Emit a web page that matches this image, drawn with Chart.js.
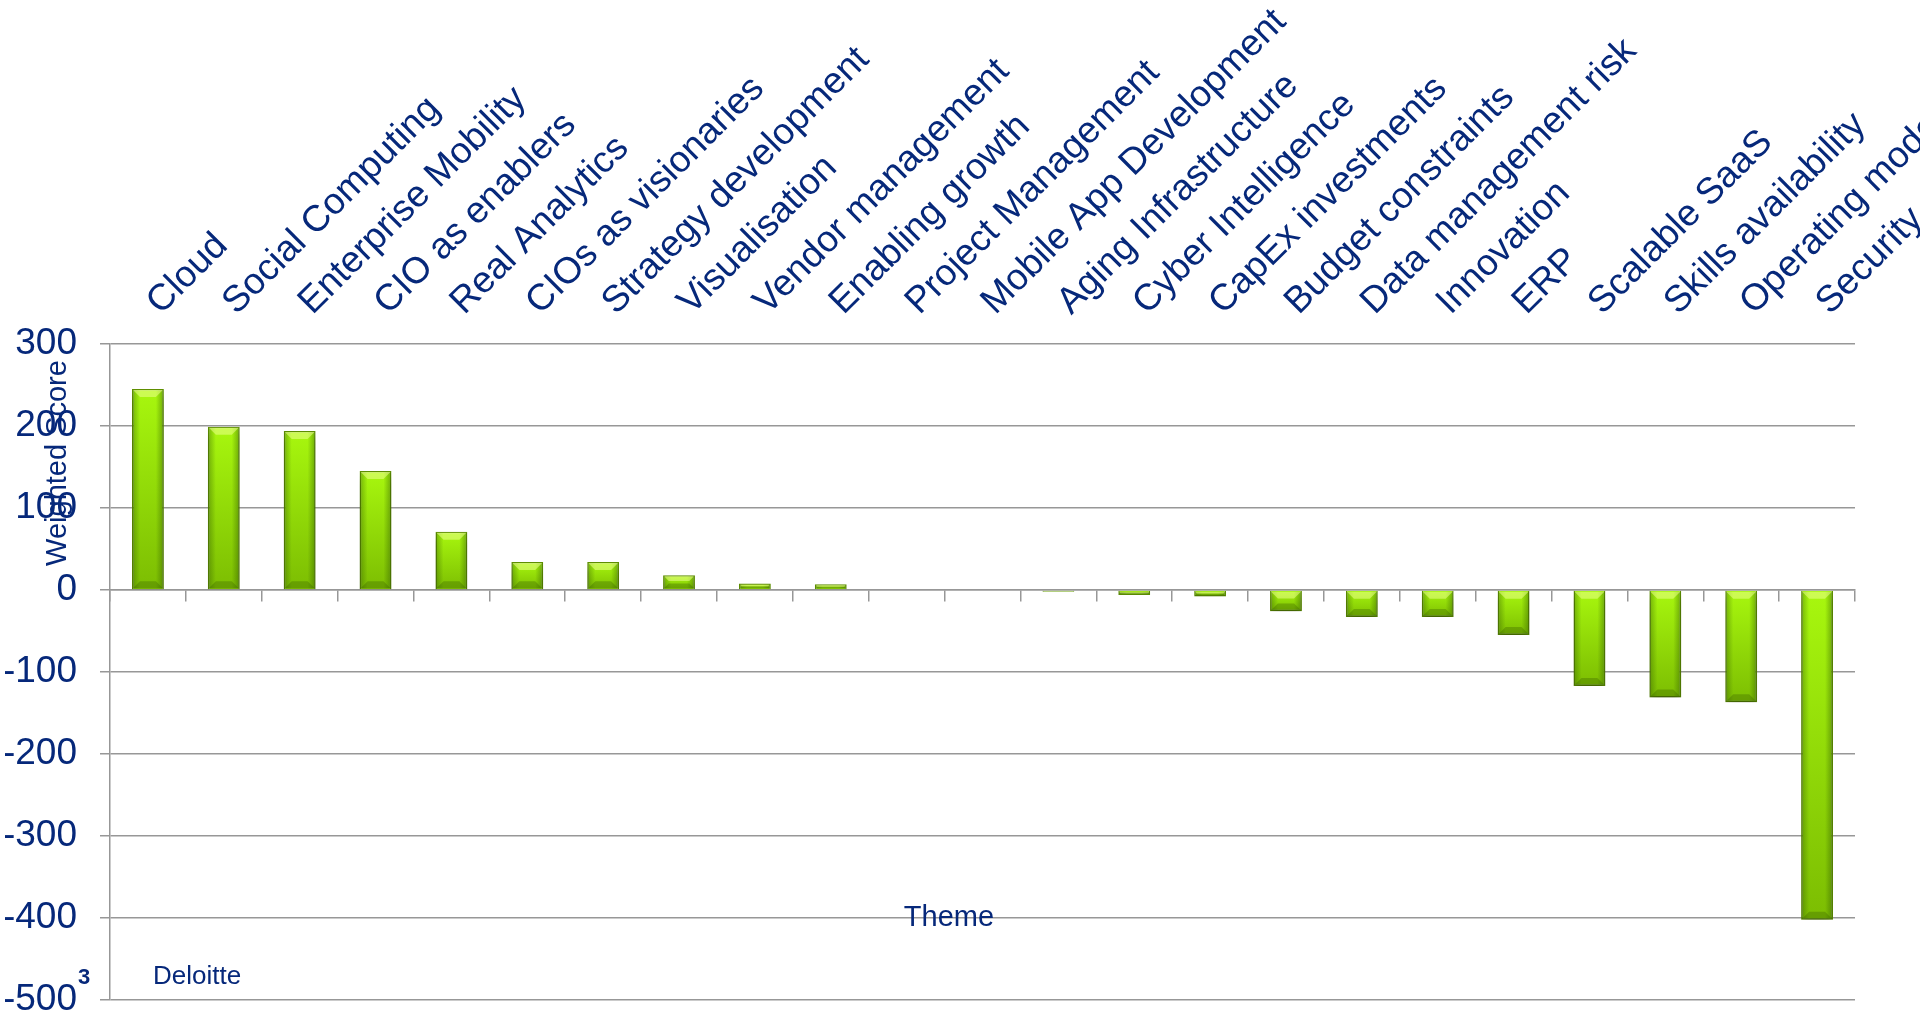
<!DOCTYPE html>
<html>
<head>
<meta charset="utf-8">
<script src="https://cdn.jsdelivr.net/npm/chart.js@4.4.1/dist/chart.umd.min.js"></script>
<style>
  html, body { margin: 0; padding: 0; background: #fff; }
  #wrap { width: 1920px; height: 1014px; position: relative; }
</style>
</head>
<body>
<div id="wrap"><canvas id="themeChart"></canvas></div>
<script>
// themes, ordered as in the chart
const themes = ['Cloud', 'Social Computing', 'Enterprise Mobility', 'CIO as enablers', 'Real Analytics',
  'CIOs as visionaries', 'Strategy development', 'Visualisation', 'Vendor management', 'Enabling growth',
  'Project Management', 'Mobile App Development', 'Aging Infrastructure', 'Cyber Intelligence',
  'CapEx investments', 'Budget constraints', 'Data management risk', 'Innovation', 'ERP',
  'Scalable SaaS', 'Skills availability', 'Operating model', 'Security'];
const scores = [245, 199, 194, 145, 71, 34, 34, 18, 8, 7, -1, -1, -2, -6, -8, -26, -33, -33, -55,
  -117, -131, -137, -402];
const yMin = -500;
const yMax = 300;
const yStep = 100;

const navy = '#06287a';
const gridGray = '#979797';
const fontFamily = '"Liberation Sans", Arial, sans-serif';
Chart.defaults.font.family = fontFamily;

const barLook = {
    id: 'barLook',
    beforeDatasetsDraw(chart) {
        const ctx = chart.ctx;
        ctx.save();
        ctx.shadowColor = 'rgba(0,0,0,0.3)';
        ctx.shadowBlur = 8;
        ctx.shadowOffsetY = 7;
    },
    afterDatasetsDraw(chart) {
        const ctx = chart.ctx;
        ctx.restore();
        const meta = chart.getDatasetMeta(0);
        ctx.save();
        meta.data.forEach((bar) => {
            const left = bar.x - bar.width / 2;
            const top = Math.min(bar.y, bar.base);
            const h = Math.abs(bar.base - bar.y);
            if (h < 2) return;
            const g = ctx.createLinearGradient(left, 0, left + bar.width, 0);
            g.addColorStop(0, 'rgba(40,80,0,0.4)');
            g.addColorStop(0.25, 'rgba(40,80,0,0)');
            g.addColorStop(0.75, 'rgba(40,80,0,0)');
            g.addColorStop(1, 'rgba(40,80,0,0.45)');
            ctx.fillStyle = g;
            ctx.fillRect(left + 1, top + 1, bar.width - 2, h - 2);
            const cap = Math.min(7, h / 3);
            ctx.fillStyle = 'rgba(235,255,140,0.55)';
            ctx.beginPath();
            ctx.moveTo(left + 1, top + 1);
            ctx.lineTo(left + bar.width - 1, top + 1);
            ctx.lineTo(left + bar.width - 1 - cap, top + 1 + cap);
            ctx.lineTo(left + 1 + cap, top + 1 + cap);
            ctx.closePath();
            ctx.fill();
            ctx.fillStyle = 'rgba(60,100,0,0.35)';
            ctx.beginPath();
            ctx.moveTo(left + 1, top + h - 1);
            ctx.lineTo(left + bar.width - 1, top + h - 1);
            ctx.lineTo(left + bar.width - 1 - cap, top + h - 1 - cap);
            ctx.lineTo(left + 1 + cap, top + h - 1 - cap);
            ctx.closePath();
            ctx.fill();
        });
        ctx.restore();
    }
};

const notes = {
    id: 'notes',
    afterDraw(chart) {
        const ctx = chart.ctx;
        const area = chart.chartArea;
        const y = chart.scales.y;
        ctx.save();
        ctx.fillStyle = navy;
        // y axis title, sits over the tick labels as in the original slide
        ctx.save();
        ctx.translate(area.left - 52, area.top + 119);
        ctx.rotate(-Math.PI / 2);
        ctx.font = '29px ' + fontFamily;
        ctx.textAlign = 'center';
        ctx.textBaseline = 'middle';
        ctx.fillText('Weighted Score', 0, 0);
        ctx.restore();

        ctx.font = '29px ' + fontFamily;
        ctx.textAlign = 'center';
        ctx.textBaseline = 'middle';
        ctx.fillText('Theme', area.left + 839, y.getPixelForValue(-400));

        ctx.textAlign = 'left';
        ctx.font = '26px ' + fontFamily;
        ctx.fillText('Deloitte', area.left + 43, area.bottom - 23);
        ctx.font = 'bold 22px ' + fontFamily;
        ctx.fillText('3', area.left - 32, area.bottom - 22);
        ctx.restore();
    }
};

const ctx = document.getElementById('themeChart').getContext('2d');
const themeChart = new Chart(ctx, {
    type: 'bar',
    data: {
        labels: themes,
        datasets: [{
            label: 'Weighted Score',
            data: scores,
            xAxisID: 'x',
            yAxisID: 'y',
            categoryPercentage: 1,
            barPercentage: 0.42,
            borderWidth: 1.5,
            borderColor: '#5e8f00',
            backgroundColor: (c) => {
                const chart = c.chart;
                if (!chart.chartArea || c.type !== 'data') return '#95df00';
                const ys = chart.scales.y;
                const p1 = ys.getPixelForValue(c.raw);
                const p0 = ys.getPixelForValue(0);
                const top = Math.min(p0, p1), bottom = Math.max(p0, p1);
                if (bottom - top < 1) return '#95df00';
                const g = chart.ctx.createLinearGradient(0, top, 0, bottom);
                g.addColorStop(0, '#a8f70e');
                g.addColorStop(1, '#7cbd02');
                return g;
            }
        }]
    },
    options: {
        responsive: true,
        maintainAspectRatio: false,
        animation: false,
        layout: {
            padding: { left: 5, right: 65, top: 0, bottom: 14 }
        },
        plugins: {
            legend: { display: false },
            tooltip: { enabled: false }
        },
        scales: {
            x: {
                type: 'category',
                position: { y: 0 },
                offset: true,
                grid: {
                    offset: true,
                    drawOnChartArea: false,
                    drawTicks: true,
                    tickLength: 11,
                    color: gridGray,
                    lineWidth: 1.5
                },
                border: { display: true, color: gridGray, width: 1.5 },
                ticks: { display: false },
                afterFit: (s) => { s.paddingLeft = 0; s.paddingRight = 0; }
            },
            x2: {
                type: 'category',
                position: 'top',
                offset: true,
                grid: { display: false },
                border: { display: false },
                ticks: {
                    color: navy,
                    font: { size: 37 },
                    minRotation: 45,
                    maxRotation: 45,
                    autoSkip: false,
                    padding: 12,
                    labelOffset: 37
                },
                afterFit: (s) => { s.height = 344; s.paddingLeft = 0; s.paddingRight = 0; }
            },
            y: {
                min: yMin,
                max: yMax,
                grid: {
                    color: gridGray,
                    lineWidth: 1.5,
                    tickLength: 10
                },
                border: { display: true, color: gridGray, width: 1.5 },
                ticks: {
                    stepSize: yStep,
                    color: navy,
                    font: { size: 37 },
                    padding: 23
                },
                afterFit: (s) => { s.width = 105; s.paddingTop = 0; s.paddingBottom = 0; }
            }
        }
    },
    plugins: [barLook, notes]
});
</script>
</body>
</html>
